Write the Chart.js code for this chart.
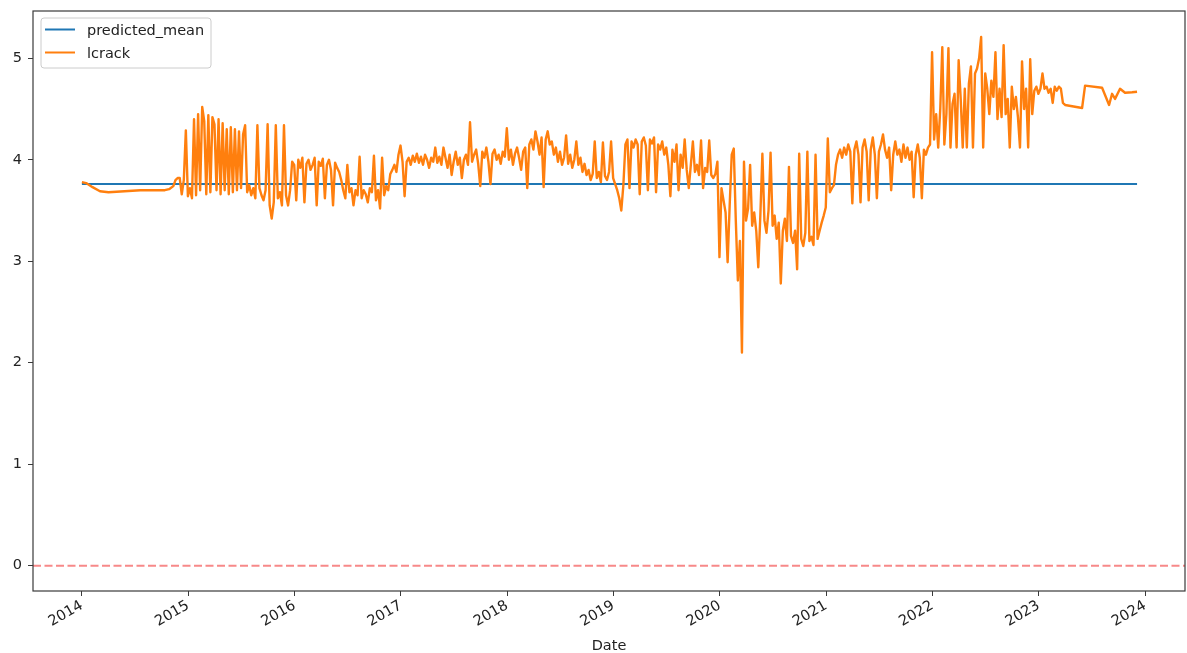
<!DOCTYPE html>
<html>
<head>
<meta charset="utf-8">
<script src="https://cdn.jsdelivr.net/npm/chart.js@4.4.0/dist/chart.umd.min.js"></script>
<style>
  html, body { margin: 0; padding: 0; background: #fff; }
  canvas { display: block; }
</style>
</head>
<body>
<canvas id="chart" width="1187" height="653"></canvas>
<script>
// lcrack (relevés hebdo) comparé à la moyenne prédite, axe x en années décimales

const X_MIN = 2013.54;
const X_MAX = 2024.376;
const Y_MIN = -0.25;
const Y_MAX = 5.466;

const YEAR_TICKS = [2014, 2015, 2016, 2017, 2018, 2019, 2020, 2021, 2022, 2023, 2024];
const VALUE_TICKS = [0, 1, 2, 3, 4, 5];

// 2014 : relevés espacés
const earlyDates = [2014.0, 2014.04, 2014.10, 2014.17, 2014.25, 2014.40, 2014.55, 2014.70, 2014.78, 2014.82, 2014.86, 2014.88, 2014.90];
const earlyValues = [3.78, 3.77, 3.73, 3.69, 3.68, 3.69, 3.70, 3.70, 3.70, 3.71, 3.74, 3.80, 3.82];

// relevés hebdomadaires (une ligne = un trimestre)
const WEEKLY_START = 2014.92;
const weeklyValues = [
  3.82, 3.66, 3.80, 4.29, 3.64, 3.72, 3.62, 4.40, 3.65, 4.45, 3.70, 4.52, 4.38,
  3.66, 4.44, 3.68, 4.42, 4.35, 3.70, 4.40, 3.66, 4.36, 3.70, 4.30, 3.66, 4.32,
  3.68, 4.30, 3.70, 4.28, 3.72, 4.25, 4.34, 3.68, 3.75, 3.65, 3.72, 3.62, 4.34,
  3.72, 3.65, 3.60, 3.70, 4.35, 3.55, 3.42, 3.58, 4.34, 3.62, 3.68, 3.55, 4.34,
  3.65, 3.55, 3.70, 3.98, 3.95, 3.60, 4.00, 3.92, 4.02, 3.58, 3.96, 4.00, 3.90,
  3.95, 4.02, 3.55, 3.98, 3.94, 4.01, 3.62, 3.95, 4.00, 3.90, 3.55, 3.97, 3.92,
  3.88, 3.80, 3.70, 3.62, 3.95, 3.68, 3.72, 3.55, 3.70, 3.65, 4.03, 3.62, 3.70,
  3.66, 3.58, 3.72, 3.68, 4.04, 3.60, 3.70, 3.52, 4.02, 3.65, 3.74, 3.70, 3.86,
  3.90, 3.95, 3.88, 4.05, 4.14, 3.98, 3.64, 3.98, 4.02, 3.95, 4.04, 3.98, 4.06,
  3.97, 4.03, 3.95, 4.05, 4.00, 3.92, 4.02, 3.98, 4.12, 3.97, 4.03, 3.95, 4.12,
  4.02, 3.92, 4.05, 3.85, 3.98, 4.08, 3.95, 4.02, 3.82, 4.00, 4.05, 3.95, 4.37,
  3.98, 4.05, 4.10, 3.96, 3.74, 4.08, 4.02, 4.12, 3.98, 3.76, 4.06, 4.10, 4.00,
  4.05, 3.96, 4.08, 4.03, 4.31, 4.00, 4.10, 3.95, 4.06, 4.12, 4.02, 3.90, 4.08,
  4.12, 3.72, 4.15, 4.20, 4.10, 4.28, 4.18, 4.05, 4.22, 3.73, 4.20, 4.28, 4.15,
  4.18, 4.05, 4.12, 3.98, 4.08, 3.95, 4.02, 4.24, 3.96, 4.05, 3.92, 4.00, 4.18,
  3.95, 4.02, 3.88, 3.96, 3.85, 3.90, 3.80, 3.86, 4.18, 3.82, 3.88, 3.78, 4.17,
  3.84, 3.80, 3.88, 4.18, 3.82, 3.76, 3.70, 3.62, 3.50, 3.75, 4.15, 4.20, 3.72,
  4.18, 4.12, 4.20, 4.15, 3.66, 4.18, 4.22, 4.14, 3.70, 4.20, 4.16, 4.22, 3.68,
  4.15, 4.10, 4.18, 4.05, 4.12, 3.95, 3.64, 4.10, 3.98, 4.15, 3.70, 4.05, 3.92,
  4.20, 3.90, 3.72, 3.95, 4.18, 3.88, 3.95, 3.85, 4.19, 3.72, 3.92, 3.88, 4.19,
  3.85, 3.82, 3.86, 3.98, 3.04, 3.72, 3.60, 3.48, 2.99, 3.55, 4.05, 4.11, 3.40,
  2.81, 3.20, 2.10, 3.98, 3.40, 3.52, 3.95, 3.35, 3.48, 3.30, 2.94, 3.45, 4.06,
  3.40, 3.28, 3.50, 4.07, 3.35, 3.45, 3.22, 3.38, 2.78, 3.30, 3.42, 3.20, 3.93,
  3.25, 3.18, 3.30, 2.92, 4.06, 3.22, 3.15, 3.28, 4.08, 3.20, 3.24, 3.16, 4.05,
  3.22, 3.30, 3.38, 3.45, 3.53, 4.21, 3.68, 3.72, 3.75, 3.95, 4.05, 4.10, 4.02,
  4.12, 4.05, 4.15, 4.08, 3.57, 4.10, 4.18, 4.05, 3.58, 4.12, 4.20, 4.08, 3.60,
  4.10, 4.22, 4.05, 3.62, 4.08, 4.15, 4.25, 4.10, 4.02, 4.12, 3.70, 4.05, 4.18,
  4.05, 4.10, 3.98, 4.15, 4.02, 4.12, 4.00, 4.08, 3.63, 4.05, 4.15, 4.02, 3.62,
  4.10, 4.05, 4.12, 4.15, 5.06, 4.20, 4.45, 4.12, 4.50, 5.11, 4.15, 4.45, 5.10,
  4.12, 4.55, 4.65, 4.12, 4.98, 4.60, 4.12, 4.70, 4.12, 4.75, 4.92, 4.12, 4.85,
  4.90, 5.00, 5.21, 4.12, 4.85, 4.70, 4.45, 4.78, 4.62, 5.06, 4.40, 4.70, 4.42,
  5.13, 4.45, 4.60, 4.12, 4.72, 4.50, 4.62, 4.42, 4.12, 4.97, 4.50, 4.70, 4.12,
  4.99, 4.45, 4.68, 4.72, 4.65, 4.70, 4.85, 4.70, 4.72, 4.66, 4.70, 4.56, 4.72,
  4.68, 4.72, 4.70, 4.56,
];

// 2023 : de nouveau des relevés espacés
const lateDates = [2023.248, 2023.408, 2023.436, 2023.596, 2023.662, 2023.690, 2023.718, 2023.765, 2023.812, 2023.878, 2023.925];
const lateValues = [4.54, 4.51, 4.73, 4.71, 4.54, 4.65, 4.60, 4.70, 4.66, 4.665, 4.67];

const predDates = [2014.0, 2016.0, 2018.0, 2020.0, 2022.0, 2023.925];
const predValues = [3.76, 3.76, 3.76, 3.76, 3.76, 3.76];

const zeroDates = [X_MIN, X_MAX];
const zeroValues = [0, 0];

const BLUE = "#1f77b4";
const ORANGE = "#ff7f0e";
const INK = "#222";
const FONT = { family: "DejaVu Sans", size: 14.5 };

const pts = (xs, ys) => xs.map((x, i) => ({ x, y: ys[i] }));

const lcrack = [
  ...pts(earlyDates, earlyValues),
  ...weeklyValues.map((y, i) => ({ x: WEEKLY_START + i / 52, y })),
  ...pts(lateDates, lateValues),
];

// cadre complet autour de la zone de tracé
const frame = {
  id: "frame",
  afterDatasetsDraw(c) {
    const { ctx, chartArea: a } = c;
    ctx.save();
    ctx.strokeStyle = "#3a3a3a";
    ctx.lineWidth = 1.2;
    ctx.strokeRect(a.left, a.top, a.right - a.left, a.bottom - a.top);
    ctx.restore();
  },
};

// légende encadrée en haut à gauche
const LEGEND = ["predicted_mean", "lcrack"];
const boxLegend = {
  id: "boxLegend",
  afterDraw(c) {
    const { ctx } = c;
    const x = 41, y = 18, w = 170, h = 50;
    ctx.save();
    ctx.beginPath();
    ctx.roundRect(x, y, w, h, 3);
    ctx.fillStyle = "rgba(255,255,255,0.8)";
    ctx.fill();
    ctx.strokeStyle = "#cccccc";
    ctx.lineWidth = 1;
    ctx.stroke();
    ctx.font = `${FONT.size}px ${FONT.family}`;
    ctx.textBaseline = "middle";
    LEGEND.forEach((label, i) => {
      const ds = c.data.datasets.find((d) => d.label === label);
      const ly = y + 11.5 + i * 23;
      ctx.strokeStyle = ds.borderColor;
      ctx.lineWidth = 2;
      ctx.beginPath();
      ctx.moveTo(x + 4, ly);
      ctx.lineTo(x + 34, ly);
      ctx.stroke();
      ctx.fillStyle = INK;
      ctx.fillText(label, x + 46, ly + 2);
    });
    ctx.restore();
  },
};

new Chart(document.getElementById("chart"), {
  type: "line",
  data: {
    datasets: [
      {
        label: "lcrack",
        data: lcrack,
        borderColor: ORANGE,
        borderWidth: 2.4,
        pointRadius: 0,
        borderJoinStyle: "round",
        order: 0,
      },
      {
        label: "predicted_mean",
        data: pts(predDates, predValues),
        borderColor: BLUE,
        borderWidth: 2,
        pointRadius: 0,
        order: 1,
      },
      {
        label: "zero",
        data: pts(zeroDates, zeroValues),
        borderColor: "rgba(240, 40, 40, 0.55)",
        borderWidth: 2,
        borderDash: [8, 3.5],
        pointRadius: 0,
        order: 2,
      },
    ],
  },
  options: {
    responsive: false,
    devicePixelRatio: 1,
    animation: false,
    layout: { padding: { top: 11, right: 2, left: 0, bottom: 0 } },
    plugins: {
      legend: { display: false },
      tooltip: { enabled: false },
    },
    scales: {
      x: {
        type: "linear",
        min: X_MIN,
        max: X_MAX,
        afterBuildTicks: (s) => {
          s.ticks = YEAR_TICKS.map((v) => ({ value: v }));
        },
        afterFit: (s) => {
          s.height = 62;
        },
        grid: { drawOnChartArea: false, tickLength: 5, color: "#3a3a3a" },
        border: { display: false },
        ticks: {
          autoSkip: false,
          minRotation: 30,
          maxRotation: 30,
          padding: 1,
          color: INK,
          font: FONT,
          callback: (v) => String(v),
        },
        title: { display: true, text: "Date", color: INK, font: FONT, padding: { top: 0, bottom: -2 } },
      },
      y: {
        type: "linear",
        min: Y_MIN,
        max: Y_MAX,
        afterBuildTicks: (s) => {
          s.ticks = VALUE_TICKS.map((v) => ({ value: v }));
        },
        afterFit: (s) => {
          s.width = 33;
          s.paddingTop = 0;
          s.paddingBottom = 0;
        },
        grid: { drawOnChartArea: false, tickLength: 5, color: "#3a3a3a" },
        border: { display: false },
        ticks: { padding: 6, color: INK, font: FONT, callback: (v) => String(v) },
      },
    },
  },
  plugins: [frame, boxLegend],
});
</script>
</body>
</html>
